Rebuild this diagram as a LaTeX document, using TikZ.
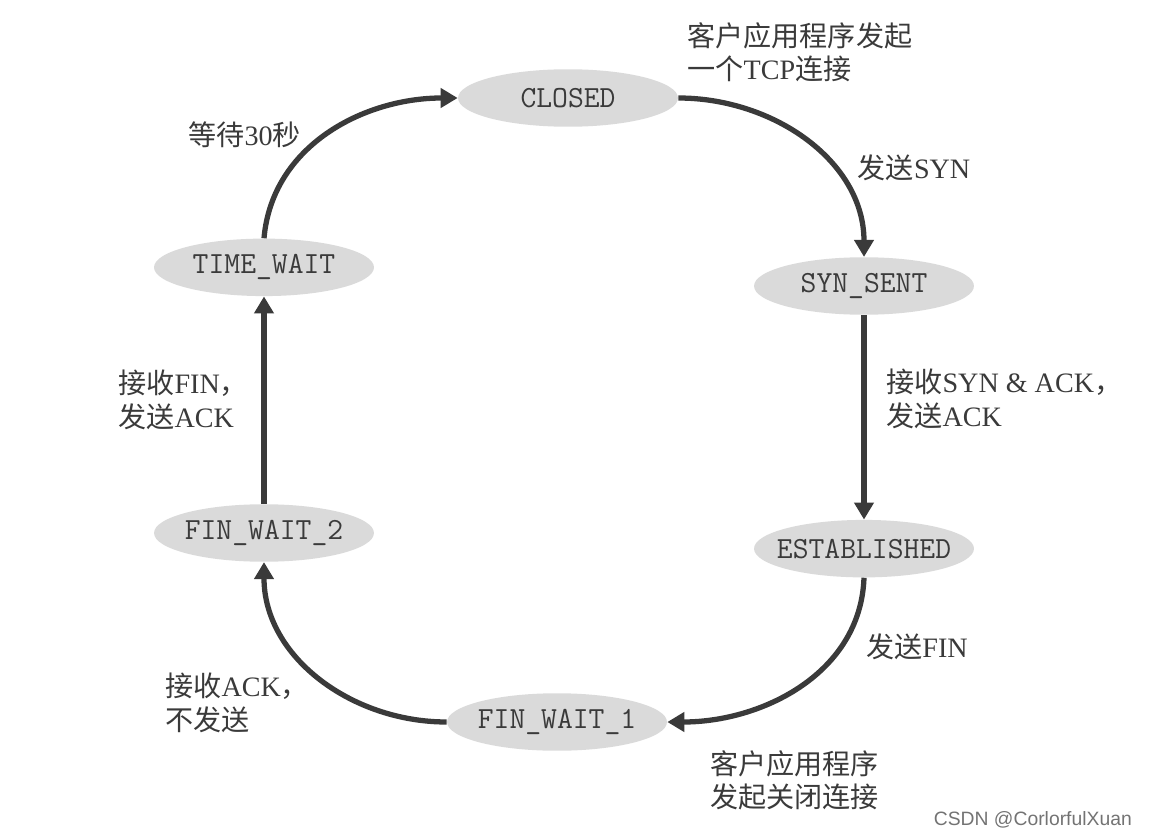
\documentclass[tikz,border=0pt]{standalone}
\usepackage{fontspec}
\setmainfont{Liberation Serif}
\setsansfont{Liberation Sans}
\newfontfamily\cjk{Noto Sans CJK SC}
\usetikzlibrary{arrows.meta,positioning,shapes.geometric}
\definecolor{ink}{HTML}{3A3A3A}
\definecolor{fog}{HTML}{DADADA}
\newcommand{\zh}[1]{{\cjk #1}}

\begin{document}
\begin{tikzpicture}[
  x=0.02cm, y=-0.02cm,
  flow/.style={-{Triangle[length=3.4mm,width=3.8mm]}, line width=3pt, draw=ink},
  state/.style={ellipse, fill=fog, inner ysep=0pt, inner xsep=-0.35cm, minimum width=4.4cm,
    minimum height=1.15cm, font=\ttfamily\fontsize{17.5}{20}\selectfont, text=ink},
  note/.style={align=left, inner sep=0pt, font=\fontsize{16}{19}\selectfont, text=ink}
]
\useasboundingbox (0,0) rectangle (1150,838);
\node[state] (closed) at (568,98) {CLOSED};
\node[state] (synsent) at (864,286) {SYN\_SENT};
\node[state, below=4.09cm of synsent] (established) {ESTABLISHED};
\node[state] (finwait1) at (557,722) {FIN\_WAIT\_1};
\node[state] (finwait2) at (264,533) {FIN\_WAIT\_2};
\node[state, above=4.15cm of finwait2] (timewait) {TIME\_WAIT};
\node[note, anchor=west] (opentext) at (687,52) {\zh{客户应用程序发起}\\\zh{一个}TCP\zh{连接}};
\node[note] (syntext) at (914,168) {\zh{发送}SYN};
\node[note, anchor=west] (synacktext) at (886,399) {\zh{接收}SYN \& ACK\zh{，}\\\zh{发送}ACK};
\node[note] (fintext) at (917,647) {\zh{发送}FIN};
\node[note, anchor=west] (closetext) at (710,780) {\zh{客户应用程序}\\\zh{发起关闭连接}};
\node[note, anchor=west] (acktext) at (165,703) {\zh{接收}ACK\zh{，}\\\zh{不发送}};
\node[note, anchor=west] (finacktext) at (118,400) {\zh{接收}FIN\zh{，}\\\zh{发送}ACK};
\node[note, anchor=west] (waittext) at (188,135) {\zh{等待}30\zh{秒}};
\node[anchor=east, font=\sffamily\fontsize{11}{13}\selectfont, text=black!55] (mark) at (1138,820) {CSDN @CorlorfulXuan};
\draw[flow] (timewait.north) to[out=85, in=180] (closed.west);
\draw[flow] (closed.east) to[out=0, in=90] (synsent.north);
\draw[flow] (synsent.south) -- (established.north);
\draw[flow] (established.south) to[out=-92, in=0] (finwait1.east);
\draw[flow] (finwait1.west) to[out=180, in=-90] (finwait2.south);
\draw[flow] (finwait2.north) -- (timewait.south);
\end{tikzpicture}
\end{document}
